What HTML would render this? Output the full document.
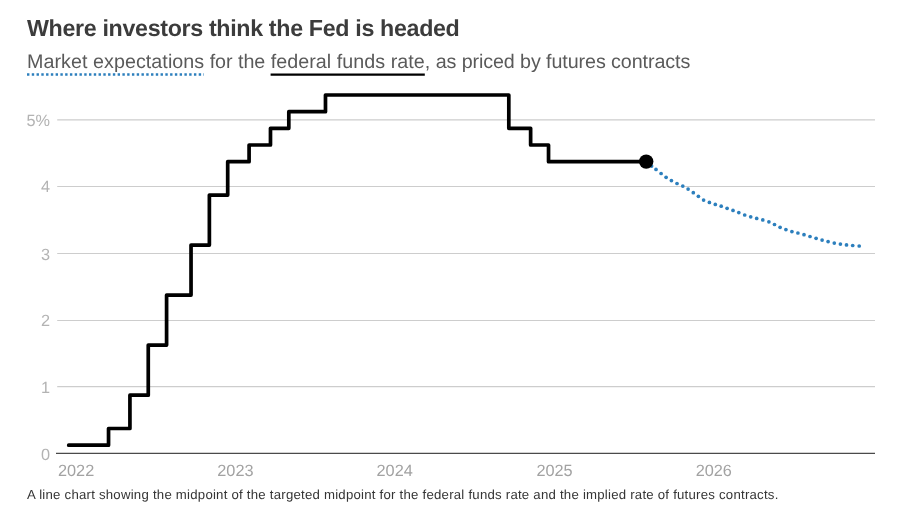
<!DOCTYPE html>
<html lang="en"><head><meta charset="utf-8"><title>Where investors think the Fed is headed</title>
<style>
html,body{margin:0;padding:0;background:#fff;}
body{width:904px;height:508px;position:relative;overflow:hidden;font-family:"Liberation Sans",sans-serif;text-rendering:geometricPrecision;}
.t{position:absolute;left:27px;top:13.5px;font-weight:bold;font-size:23.25px;line-height:28px;color:#3c3c3c;white-space:nowrap;letter-spacing:-0.34px;}
.s{position:absolute;left:27px;top:49.6px;font-size:19.7px;line-height:24px;color:#5a5a5a;white-space:nowrap;}
.f{position:absolute;left:27px;top:487.4px;font-size:13.2px;line-height:16px;color:#353535;white-space:nowrap;letter-spacing:0.236px;}
.yl{position:absolute;left:0;width:50px;text-align:right;font-size:16.3px;line-height:18px;color:#b3b3b3;}
.xl{position:absolute;width:60px;text-align:center;top:461.7px;font-size:16.3px;line-height:18px;color:#a2a2a2;}
svg{position:absolute;left:0;top:0;}
</style></head><body>
<div class="t">Where investors think the Fed is headed</div>
<div class="s"><span id="s1" style="letter-spacing:0.055px">Market expectations</span><span style="letter-spacing:-0.04px"> for the </span><span id="s2" style="letter-spacing:0.055px">federal funds rate</span><span style="letter-spacing:-0.087px">, as priced by futures contracts</span></div>
<svg width="904" height="508" viewBox="0 0 904 508">
<line x1="27" x2="204" y1="74.5" y2="74.5" stroke="#2c7fbd" stroke-width="2.4" stroke-dasharray="2.4 2.37"/>
<line x1="270.6" x2="424.8" y1="74.6" y2="74.6" stroke="#000" stroke-width="2.4"/>
<line x1="57.2" x2="875" y1="119.85" y2="119.85" stroke="#cdcdcd" stroke-width="1.1"/><line x1="57.2" x2="875" y1="186.50" y2="186.50" stroke="#cdcdcd" stroke-width="1.1"/><line x1="57.2" x2="875" y1="253.50" y2="253.50" stroke="#cdcdcd" stroke-width="1.1"/><line x1="57.2" x2="875" y1="320.50" y2="320.50" stroke="#cdcdcd" stroke-width="1.1"/><line x1="57.2" x2="875" y1="386.60" y2="386.60" stroke="#cdcdcd" stroke-width="1.1"/>
<line x1="56" x2="875" y1="453.4" y2="453.4" stroke="#4a4a4a" stroke-width="1.1"/>
<path d="M68.70 445.16 L108.54 445.16 L108.54 428.49 L129.93 428.49 L129.93 395.14 L148.26 395.14 L148.26 345.11 L166.59 345.11 L166.59 295.09 L191.04 295.09 L191.04 245.06 L209.37 245.06 L209.37 195.04 L227.70 195.04 L227.70 161.69 L249.09 161.69 L249.09 145.01 L270.48 145.01 L270.48 128.34 L288.81 128.34 L288.81 111.66 L325.48 111.66 L325.48 94.99 L508.81 94.99 L508.81 128.34 L530.63 128.34 L530.63 145.01 L548.53 145.01 L548.53 161.69 L646.20 161.69" fill="none" stroke="#000" stroke-width="3.7" stroke-linecap="round" stroke-linejoin="round"/>
<g fill="#2c7fbd"><circle cx="651.6" cy="166.1" r="1.85"/><circle cx="656.0" cy="169.4" r="1.85"/><circle cx="661.1" cy="173.5" r="1.85"/><circle cx="666.1" cy="177.3" r="1.85"/><circle cx="671.4" cy="180.6" r="1.85"/><circle cx="677.0" cy="183.5" r="1.85"/><circle cx="682.8" cy="186.1" r="1.85"/><circle cx="688.1" cy="189.1" r="1.85"/><circle cx="693.3" cy="192.7" r="1.85"/><circle cx="698.4" cy="196.3" r="1.85"/><circle cx="703.6" cy="200.1" r="1.85"/><circle cx="709.4" cy="202.4" r="1.85"/><circle cx="715.3" cy="204.4" r="1.85"/><circle cx="721.2" cy="206.2" r="1.85"/><circle cx="727.1" cy="208.3" r="1.85"/><circle cx="733.0" cy="210.4" r="1.85"/><circle cx="738.8" cy="212.6" r="1.85"/><circle cx="744.7" cy="215.0" r="1.85"/><circle cx="750.7" cy="216.8" r="1.85"/><circle cx="756.7" cy="218.4" r="1.85"/><circle cx="762.8" cy="219.9" r="1.85"/><circle cx="768.9" cy="221.8" r="1.85"/><circle cx="774.5" cy="224.5" r="1.85"/><circle cx="780.1" cy="227.3" r="1.85"/><circle cx="785.9" cy="229.6" r="1.85"/><circle cx="791.9" cy="231.6" r="1.85"/><circle cx="797.9" cy="233.0" r="1.85"/><circle cx="804.0" cy="234.7" r="1.85"/><circle cx="810.0" cy="236.5" r="1.85"/><circle cx="816.1" cy="238.3" r="1.85"/><circle cx="822.1" cy="240.1" r="1.85"/><circle cx="828.1" cy="241.6" r="1.85"/><circle cx="834.3" cy="243.1" r="1.85"/><circle cx="840.4" cy="244.1" r="1.85"/><circle cx="846.5" cy="244.9" r="1.85"/><circle cx="852.7" cy="245.5" r="1.85"/><circle cx="859.2" cy="246.0" r="1.85"/></g>
<circle cx="646.2" cy="161.6" r="7.2" fill="#000"/>
</svg>
<div class="yl" style="top:111.65px">5%</div><div class="yl" style="top:177.65px">4</div><div class="yl" style="top:245.65px">3</div><div class="yl" style="top:311.65px">2</div><div class="yl" style="top:378.65px">1</div><div class="yl" style="top:445.65px">0</div>
<div class="xl" style="left:46.1px">2022</div><div class="xl" style="left:205.4px">2023</div><div class="xl" style="left:364.7px">2024</div><div class="xl" style="left:524.5px">2025</div><div class="xl" style="left:683.8px">2026</div>
<div class="f">A line chart showing the midpoint of the targeted midpoint for the federal funds rate and the implied rate of futures contracts.</div>
</body></html>
